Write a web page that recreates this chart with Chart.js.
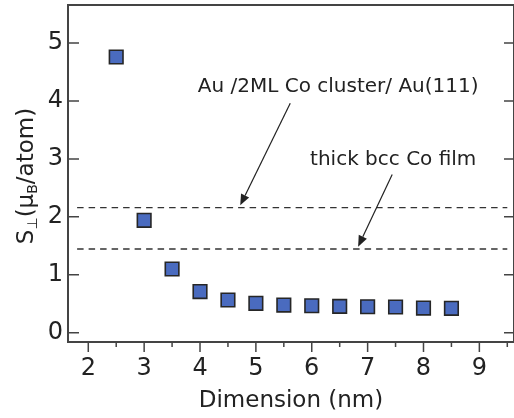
<!DOCTYPE html>
<html><head><meta charset="utf-8">
<script src="https://cdn.jsdelivr.net/npm/chart.js@4"></script>
<style>html,body{margin:0;padding:0;background:#fff}#wrap{width:514px;height:418px;position:relative}</style>
</head><body><div id="wrap"><canvas id="c"></canvas></div>
<script>
// ---- data ----
const dimensions = [2.5, 3, 3.5, 4, 4.5, 5, 5.5, 6, 6.5, 7, 7.5, 8, 8.5];
const sPerp      = [4.76, 1.94, 1.10, 0.71, 0.565, 0.507, 0.478, 0.466, 0.455, 0.449, 0.444, 0.426, 0.421];
const refLevels  = [2.16, 1.445];
const refNames   = ['Au /2ML Co cluster/ Au(111)', 'thick bcc Co film'];
const refSpan    = [1.8, 9.5];
const xTicks     = [2, 3, 4, 5, 6, 7, 8, 9];
const xMinorTicks= [2.5, 3.5, 4.5, 5.5, 6.5, 7.5, 8.5, 9.5];
const yTicks     = [0, 1, 2, 3, 4, 5];
// annotation anchors in data units
const labelAnchors = [[3.96, 4.155], [5.97, 2.895]];
const arrowTails   = [[5.615, 3.96], [7.44, 2.73]];
const arrowHeads   = [[4.72, 2.20], [6.83, 1.485]];

const FONT = 'DejaVu Sans';
const INK = '#222';
const AXIS = '#444';

const overlay = {
  id: 'overlay',
  afterDatasetsDraw(chart) {
    const {ctx, scales: {x, y}} = chart;
    ctx.save();
    ctx.fillStyle = INK;
    ctx.font = '20px "' + FONT + '"';
    ctx.textAlign = 'left';
    ctx.textBaseline = 'alphabetic';
    refNames.forEach((t, i) => {
      ctx.fillText(t, x.getPixelForValue(labelAnchors[i][0]), y.getPixelForValue(labelAnchors[i][1]));
    });
    ctx.strokeStyle = INK;
    ctx.lineWidth = 1.2;
    arrowTails.forEach((tl, i) => {
      const x0 = x.getPixelForValue(tl[0]), y0 = y.getPixelForValue(tl[1]);
      const x1 = x.getPixelForValue(arrowHeads[i][0]), y1 = y.getPixelForValue(arrowHeads[i][1]);
      const ang = Math.atan2(y1 - y0, x1 - x0);
      const L = 11, W = 4.5;
      const bx = x1 - L * Math.cos(ang), by = y1 - L * Math.sin(ang);
      ctx.beginPath(); ctx.moveTo(x0, y0); ctx.lineTo(bx, by); ctx.stroke();
      ctx.beginPath();
      ctx.moveTo(x1, y1);
      ctx.lineTo(bx + W * Math.sin(ang), by - W * Math.cos(ang));
      ctx.lineTo(bx - W * Math.sin(ang), by + W * Math.cos(ang));
      ctx.closePath(); ctx.fill();
    });
    ctx.restore();
  },
  afterDraw(chart) {
    const {ctx, chartArea: a, scales: {x, y}} = chart;
    ctx.save();
    ctx.strokeStyle = AXIS;
    ctx.lineWidth = 2;
    ctx.beginPath();
    ctx.moveTo(a.left, a.bottom); ctx.lineTo(a.left, a.top); ctx.lineTo(a.right, a.top);
    ctx.lineTo(a.right, a.bottom); ctx.closePath();
    ctx.stroke();
    ctx.lineWidth = 1.5;
    ctx.beginPath();
    xTicks.forEach(v => { const p = x.getPixelForValue(v); ctx.moveTo(p, a.bottom); ctx.lineTo(p, a.bottom + 10); });
    xMinorTicks.forEach(v => { const p = x.getPixelForValue(v); ctx.moveTo(p, a.bottom); ctx.lineTo(p, a.bottom + 5); });
    yTicks.forEach(v => {
      const p = y.getPixelForValue(v);
      ctx.moveTo(a.left, p); ctx.lineTo(a.left + 11, p);
      ctx.moveTo(a.right, p); ctx.lineTo(a.right - 10, p);
    });
    ctx.stroke();
    // y-axis title with subscripts
    const parts = [['S', 0], ['\u22A5', 1], ['(\u03BC', 0], ['B', 1], ['/atom)', 0]];
    const mainF = '23px "' + FONT + '"', subF = '14px "' + FONT + '"';
    let total = 0;
    parts.forEach(p => { ctx.font = p[1] ? subF : mainF; total += ctx.measureText(p[0]).width; });
    ctx.translate(33, 176);
    ctx.rotate(-Math.PI / 2);
    ctx.fillStyle = INK;
    ctx.textBaseline = 'alphabetic';
    ctx.textAlign = 'left';
    let cx = -total / 2;
    parts.forEach(p => {
      ctx.font = p[1] ? subF : mainF;
      ctx.fillText(p[0], cx, p[1] ? 4 : 0);
      cx += ctx.measureText(p[0]).width;
    });
    ctx.restore();
  }
};

const datasets = refLevels.map(lv => ({
  data: [{x: refSpan[0], y: lv}, {x: refSpan[1], y: lv}],
  showLine: true, pointRadius: 0, borderColor: '#333', borderWidth: 1.3,
  borderDash: [6.5, 5], fill: false
}));
datasets.push({
  data: dimensions.map((d, i) => ({x: d, y: sPerp[i]})),
  pointStyle: 'rect', pointRadius: 9.6, pointBackgroundColor: '#4A6BBF',
  pointBorderColor: '#262626', pointBorderWidth: 1.6, showLine: false
});

const noPad = s => { s.paddingTop = 0; s.paddingBottom = 0; s.paddingLeft = 0; s.paddingRight = 0; };

new Chart(document.getElementById('c'), {
  type: 'scatter',
  data: {datasets},
  options: {
    responsive: true, maintainAspectRatio: false, animation: false,
    layout: {autoPadding: false, padding: {top: 5, right: 0, left: 0, bottom: 0}},
    plugins: {legend: {display: false}, tooltip: {enabled: false}},
    scales: {
      x: {
        type: 'linear', min: 1.637, max: 9.62,
        afterBuildTicks: s => { s.ticks = xTicks.map(v => ({value: v})); },
        afterFit: s => { s.height = 76; noPad(s); },
        grid: {display: false, drawTicks: false}, border: {display: false},
        ticks: {font: {family: FONT, size: 24}, color: INK, padding: 12, maxRotation: 0, autoSkip: false},
        title: {display: true, text: 'Dimension (nm)', font: {family: FONT, size: 23}, color: INK, padding: {top: 0, bottom: 3}}
      },
      y: {
        type: 'linear', min: -0.16, max: 5.657,
        afterBuildTicks: s => { s.ticks = yTicks.map(v => ({value: v})); },
        afterFit: s => { s.width = 68; noPad(s); },
        grid: {display: false, drawTicks: false}, border: {display: false},
        ticks: {font: {family: FONT, size: 24}, color: INK, padding: 5}
      }
    }
  },
  plugins: [overlay]
});
</script>
</body></html>
